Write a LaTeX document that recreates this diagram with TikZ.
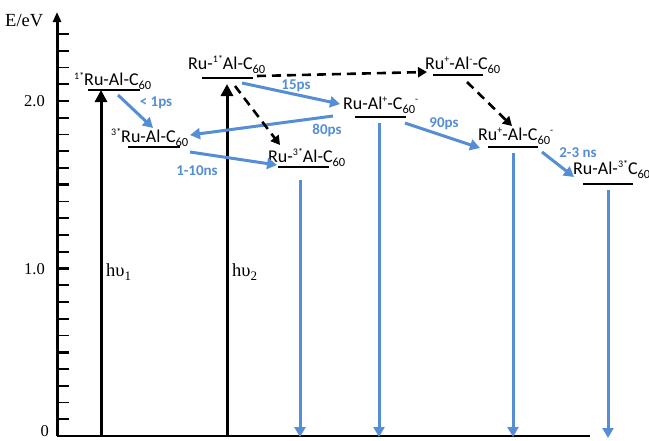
\documentclass[tikz,border=0pt]{standalone}
\usepackage{fontspec}
\setmainfont{Liberation Serif}
\newfontfamily\spfont{Carlito}
\usetikzlibrary{arrows.meta}
\definecolor{decayblue}{RGB}{85,142,213}
% raised and lowered indices for the species labels
\newcommand{\supx}[1]{\raisebox{6.5pt}{\fontsize{10}{10}\selectfont #1}}
\newcommand{\subx}[1]{\raisebox{-4pt}{\fontsize{12.5}{12.5}\selectfont #1}}

\begin{document}
\begin{tikzpicture}[x=1pt,y=-1pt,
  levelline/.style={line width=1.3pt},
  species/.style={font=\spfont\fontsize{18}{18}\selectfont, inner sep=0pt, anchor=base west},
  axislabel/.style={font=\fontsize{18.5}{19}\selectfont, inner sep=0pt},
  ticklabel/.style={font=\fontsize{16.5}{17}\selectfont, inner sep=0pt},
  rate/.style={font=\spfont\bfseries\fontsize{15}{15}\selectfont, text=decayblue, inner sep=0pt},
  bluearrow/.style={draw=decayblue, line width=3pt, -{Triangle[length=10pt,width=11pt]}},
  dasharrow/.style={draw=black, line width=2.6pt, dash pattern=on 9pt off 6pt, -{Triangle[length=9pt,width=10pt]}},
  pumparrow/.style={draw=black, line width=3pt, -{Triangle[length=12pt,width=12pt]}},
  minortick/.style={line width=1.6pt},
  majortick/.style={line width=2.6pt}
]
\useasboundingbox (0,0) rectangle (649,440);

% energy axis and baseline
\coordinate (origin) at (57,436);
\coordinate (ytop) at (57,12);
\coordinate (xend) at (590,436);
\draw[line width=3pt, -{Triangle[length=10pt,width=8pt]}] (origin) -- (ytop);
\draw[line width=2pt] (origin) -- (xend);
\foreach \k in {1,...,24}{
  \pgfmathsetmacro{\yy}{436-16.75*\k}
  \pgfmathtruncatemacro{\m}{mod(\k,5)}
  \ifnum\m=0
    \draw[majortick] (57,\yy) -- (69,\yy);
  \else
    \draw[minortick] (57,\yy) -- (69,\yy);
  \fi
}
\node[axislabel, anchor=base west] (eunit) at (5,26.5) {E/eV};
\node[ticklabel, anchor=east] (ytwo) at (45,101) {2.0};
\node[ticklabel, anchor=east] (yone) at (45,269) {1.0};
\node[ticklabel, anchor=east] (yzero) at (49,431) {0};

% energy levels
\draw[levelline] (88,90) -- (140,90);
\draw[levelline] (202,78) -- (253,78);
\draw[levelline] (128,147) -- (180,147);
\draw[levelline] (278,167) -- (329,167);
\draw[levelline] (355,117) -- (406,117);
\draw[levelline] (433,75) -- (483,75);
\draw[levelline] (488,147) -- (538,147);
\draw[levelline] (583,184) -- (633,184);

% species labels
\node[species] (sRuA) at (74,85.5) {\supx{1*}Ru-Al-C\subx{60}};
\node[species] (sRuB) at (188,69) {Ru-\supx{1*}Al-C\subx{60}};
\node[species] (tRuA) at (111,142) {\supx{3*}Ru-Al-C\subx{60}};
\node[species] (tRuB) at (268,162) {Ru-\supx{3*}Al-C\subx{60}};
\node[species] (csA) at (343,109) {Ru-Al\supx{+}-C\subx{60}\supx{-}};
\node[species] (csB) at (425,69) {Ru\supx{+}-Al\supx{-}-C\subx{60}};
\node[species] (csC) at (478,140) {Ru\supx{+}-Al-C\subx{60}\supx{-}};
\node[species] (tC) at (573,174) {Ru-Al-\supx{3*}C\subx{60}};

% excitation
\coordinate (pumpA0) at (101,436);
\coordinate (pumpA1) at (101,90);
\coordinate (pumpB0) at (227,436);
\coordinate (pumpB1) at (227,84);
\draw[pumparrow] (pumpA0) -- (pumpA1);
\draw[pumparrow] (pumpB0) -- (pumpB1);
\node[axislabel, anchor=base west] (hvA) at (106,276) {hυ\raisebox{-4pt}{\fontsize{13}{13}\selectfont 1}};
\node[axislabel, anchor=base west] (hvB) at (232,276) {hυ\raisebox{-4pt}{\fontsize{13}{13}\selectfont 2}};

% relaxation steps
\coordinate (a1s) at (118,95);  \coordinate (a1e) at (153,128);
\coordinate (a2s) at (190,152); \coordinate (a2e) at (277,165);
\coordinate (a3s) at (242,83);  \coordinate (a3e) at (340,104);
\coordinate (a4s) at (333,116); \coordinate (a4e) at (190,135);
\coordinate (a5s) at (405,123); \coordinate (a5e) at (480,148);
\coordinate (a6s) at (542,152); \coordinate (a6e) at (574,177);
\draw[bluearrow] (a1s) -- (a1e);
\draw[bluearrow] (a2s) -- (a2e);
\draw[bluearrow] (a3s) -- (a3e);
\draw[bluearrow] (a4s) -- (a4e);
\draw[bluearrow] (a5s) -- (a5e);
\draw[bluearrow] (a6s) -- (a6e);
\node[rate] (r1) at (156,103) {< 1ps};
\node[rate] (r2) at (197,171) {1-10ns};
\node[rate] (r3) at (296,86) {15ps};
\node[rate] (r4) at (327,130) {80ps};
\node[rate] (r5) at (444,124) {90ps};
\node[rate] (r6) at (578,152.5) {2-3 ns};

% decay to ground state
\coordinate (v1s) at (300,180); \coordinate (v1e) at (300,437);
\coordinate (v2s) at (379,123); \coordinate (v2e) at (379,437);
\coordinate (v3s) at (513,153); \coordinate (v3e) at (513,437);
\coordinate (v4s) at (608,190); \coordinate (v4e) at (608,438);
\draw[bluearrow] (v1s) -- (v1e);
\draw[bluearrow] (v2s) -- (v2e);
\draw[bluearrow] (v3s) -- (v3e);
\draw[bluearrow] (v4s) -- (v4e);

% alternative pathways
\coordinate (d1s) at (257,76);  \coordinate (d1e) at (427,72);
\coordinate (d2s) at (235,86);  \coordinate (d2e) at (280,145);
\coordinate (d3s) at (467,82);  \coordinate (d3e) at (512,126);
\draw[dasharrow] (d1s) -- (d1e);
\draw[dasharrow] (d2s) -- (d2e);
\draw[dasharrow] (d3s) -- (d3e);
\end{tikzpicture}
\end{document}
